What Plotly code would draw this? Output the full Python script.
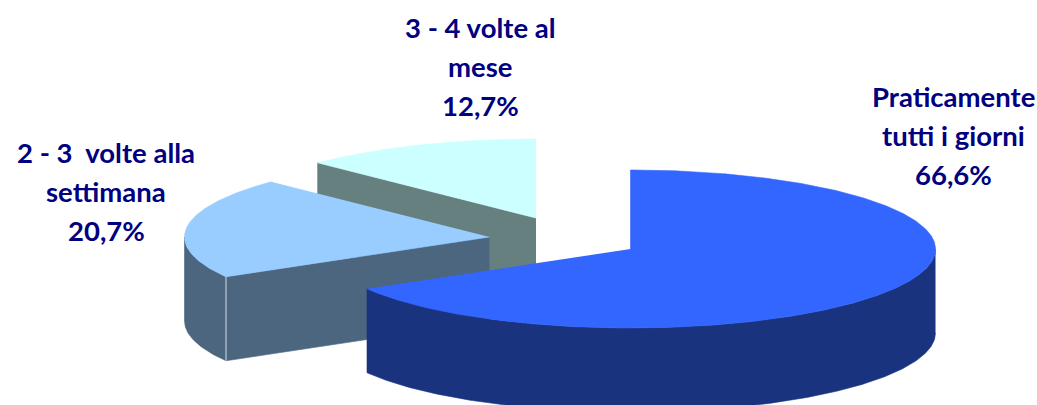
import numpy as np
import plotly.graph_objects as go

# Survey answers and their shares (percent)
category_lines = [
    ["Praticamente", "tutti i giorni"],
    ["2 - 3  volte alla", "settimana"],
    ["3 - 4 volte al", "mese"],
]
shares = [66.6, 20.7, 12.7]

top_colors = ["#3366FF", "#99CCFF", "#CCFFFF"]
side_colors = ["#1A337F", "#4D6680", "#668080"]

# Exploded slice geometry, in canvas pixels
WIDTH, HEIGHT = 1037, 405
RX, RY, DEPTH = 305, 79, 84
centers = [(630.5, 249), (489.5, 237), (536, 218)]
label_anchors = [(953, 96), (106, 152), (480, 27)]
LINE_PITCH = 39
FONT = dict(family="Lato, Carlito, 'Open Sans', sans-serif", size=27.5, color="#000080")


def rim(center, start, end):
    """Points along the elliptical rim, angles clockwise from 12 o'clock."""
    a = np.radians(np.linspace(start, end, max(2, int(abs(end - start) * 2) + 1)))
    return center[0] + RX * np.sin(a), center[1] - RY * np.cos(a)


def polygon(fig, x, y, color, name):
    fig.add_trace(go.Scatter(
        x=list(x), y=list(y), mode="lines", fill="toself", fillcolor=color,
        line=dict(width=0.6, color=color), hoverinfo="text", text=name,
        showlegend=False,
    ))


fig = go.Figure()

bounds = np.concatenate([[0], np.cumsum(shares)]) * 3.6

# Painted back to front: the smallest slice, then the middle one, then the largest
for i in [2, 1, 0]:
    c = centers[i]
    start, end = bounds[i], bounds[i + 1]
    name = " ".join(category_lines[i]) + f" {shares[i]:.1f}%".replace(".", ",")

    # Flat cut face on the leading radius, visible for the two left-hand slices
    if i in (1, 2):
        sx, sy = rim(c, start, start)
        polygon(fig, [c[0], sx[0], sx[0], c[0]],
                [c[1], sy[0], sy[0] + DEPTH, c[1] + DEPTH], side_colors[i], name)

    # Curved outer wall, only over the front half of the rim
    wall_start, wall_end = max(start, 90), min(end, 270)
    if wall_start < wall_end:
        wx, wy = rim(c, wall_start, wall_end)
        polygon(fig, np.concatenate([wx, wx[::-1]]),
                np.concatenate([wy, wy[::-1] + DEPTH]), side_colors[i], name)

    # Pale seam between the wall and the cut face of the middle slice
    if i == 1:
        sx, sy = rim(c, start, start)
        fig.add_trace(go.Scatter(
            x=[sx[0], sx[0]], y=[sy[0], sy[0] + DEPTH], mode="lines",
            line=dict(width=1, color="#D5DDE5"), hoverinfo="skip", showlegend=False,
        ))

    # Top surface
    tx, ty = rim(c, start, end)
    polygon(fig, np.concatenate([[c[0]], tx]), np.concatenate([[c[1]], ty]),
            top_colors[i], name)

# Three-line labels; each line is placed on its own for the wide leading
for lines, share, (lx, ly) in zip(category_lines, shares, label_anchors):
    rows = lines + [f"{share:.1f}%".replace(".", ",")]
    for k, row in enumerate(rows):
        fig.add_annotation(
            x=lx, y=ly + k * LINE_PITCH, text=f"<b>{row}</b>", showarrow=False,
            xref="x", yref="y", xanchor="center", yanchor="middle", font=FONT,
        )

fig.update_layout(
    width=WIDTH, height=HEIGHT, margin=dict(l=0, r=0, t=0, b=0),
    paper_bgcolor="white", plot_bgcolor="white", showlegend=False,
    xaxis=dict(range=[0, WIDTH], visible=False, fixedrange=True),
    yaxis=dict(range=[HEIGHT, 0], visible=False, fixedrange=True),
)

fig.write_html("out.html", config=dict(displayModeBar=False))
